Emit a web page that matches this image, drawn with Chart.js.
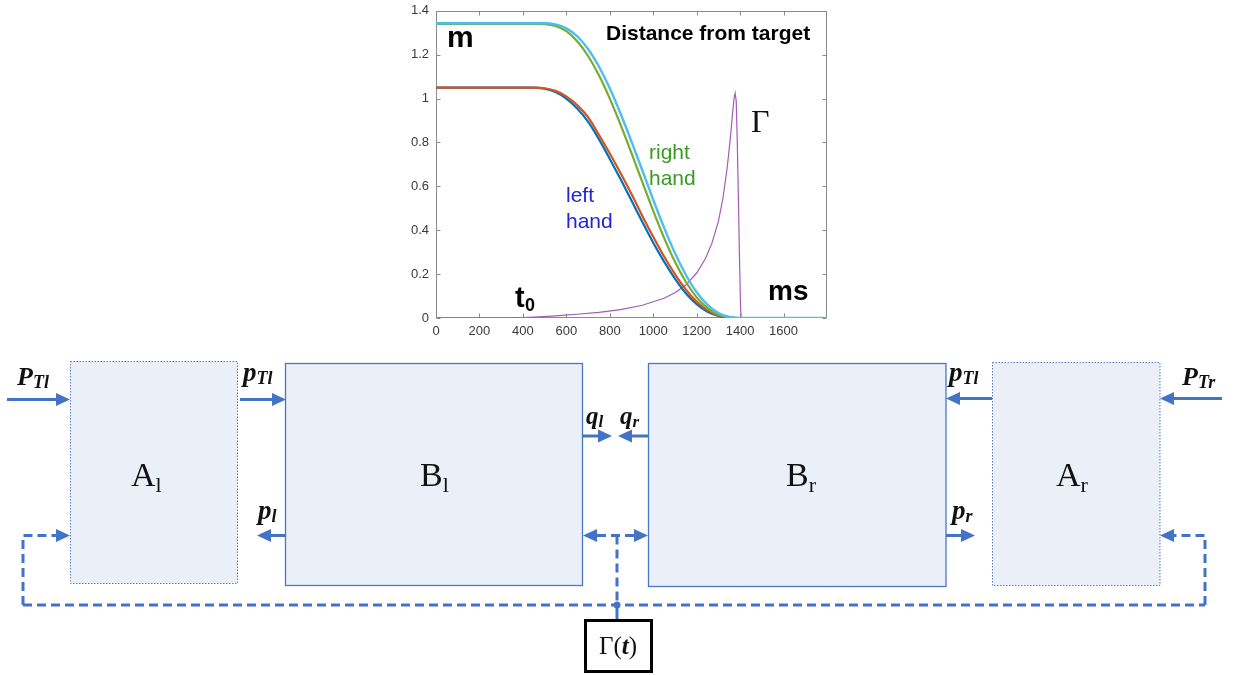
<!DOCTYPE html>
<html><head><meta charset="utf-8">
<script src="https://cdn.jsdelivr.net/npm/chart.js@4.4.1/dist/chart.umd.min.js"></script>
<style>
html,body{margin:0;padding:0;background:#fff;width:1236px;height:675px;overflow:hidden;position:relative}
#wrap{position:absolute;left:380px;top:-4px;width:460px;height:349px}
#diag{position:absolute;left:0;top:0;pointer-events:none}
.mi{font-family:'Liberation Serif','DejaVu Serif',serif;font-weight:bold;font-style:italic;fill:#111}
.bx{font-family:'Liberation Serif','DejaVu Serif',serif;fill:#111}
.an{font-family:'Liberation Sans',Arial,sans-serif}
</style></head><body>
<div id="wrap"><canvas id="c"></canvas></div>
<svg id="diag" width="1236" height="675" xmlns="http://www.w3.org/2000/svg">
  <!-- chart annotations -->
  <text class="an" x="447" y="47" font-size="30" font-weight="bold" fill="#000">m</text>
  <text class="an" x="606" y="40" font-size="21" font-weight="bold" fill="#000">Distance from target</text>
  <text class="bx" x="751" y="132" font-size="32">Γ</text>
  <text class="an" x="649" y="159" font-size="21" fill="#3a9a25">right</text>
  <text class="an" x="649" y="185" font-size="21" fill="#3a9a25">hand</text>
  <text class="an" x="566" y="202" font-size="21" fill="#2424d0">left</text>
  <text class="an" x="566" y="228" font-size="21" fill="#2424d0">hand</text>
  <text class="an" x="515" y="307" font-size="29" font-weight="bold" fill="#000">t</text>
  <text class="an" x="525" y="311" font-size="18" font-weight="bold" fill="#000">0</text>
  <text class="an" x="768" y="300" font-size="28" font-weight="bold" fill="#000">ms</text>

  <!-- boxes -->
  <rect x="70.5" y="361.5" width="167" height="222" fill="#EAEFF8" stroke="#5B80C8" stroke-width="1" stroke-dasharray="1.5,1.5"/>
  <rect x="285.5" y="363.5" width="297" height="222" fill="#EAEFF8" stroke="#4A76C6" stroke-width="1.3"/>
  <rect x="648.5" y="363.5" width="297.5" height="223" fill="#EAEFF8" stroke="#4A76C6" stroke-width="1.3"/>
  <rect x="992.5" y="362.5" width="167.5" height="223" fill="#EAEFF8" stroke="#5B80C8" stroke-width="1" stroke-dasharray="1.5,1.5"/>

  <!-- box labels -->
  <text class="bx" x="131" y="486" font-size="34">A<tspan font-size="22" dy="6">l</tspan></text>
  <text class="bx" x="420" y="486" font-size="34">B<tspan font-size="22" dy="6">l</tspan></text>
  <text class="bx" x="786" y="486" font-size="34">B<tspan font-size="22" dy="6">r</tspan></text>
  <text class="bx" x="1056" y="486" font-size="34">A<tspan font-size="22" dy="6">r</tspan></text>

  <g stroke="#4472C4" stroke-width="3" fill="none">
    <line x1="7" y1="399.5" x2="57" y2="399.5"/>
    <line x1="240" y1="399.5" x2="273" y2="399.5"/>
    <line x1="583" y1="436" x2="599" y2="436"/>
    <line x1="631" y1="436" x2="648" y2="436"/>
    <line x1="270" y1="535.5" x2="286" y2="535.5"/>
    <line x1="959" y1="398.5" x2="992" y2="398.5"/>
    <line x1="1173" y1="398.5" x2="1222" y2="398.5"/>
    <line x1="946" y1="535.5" x2="962" y2="535.5"/>
    <line x1="617" y1="605" x2="617" y2="620"/>
  </g>
  <g stroke="#4472C4" stroke-width="3" fill="none" stroke-dasharray="9,5">
    <path d="M23,605 V535.5 H57"/>
    <path d="M1205,605 V535.5 H1173"/>
    <path d="M23,605 H1205"/>
    <path d="M597,535.5 H634"/>
    <path d="M617,535.5 V605"/>
  </g>
  <g fill="#4472C4">
    <polygon points="70,399.5 56,393 56,406"/>
    <polygon points="286,399.5 272,393 272,406"/>
    <polygon points="612,436 598,429.5 598,442.5"/>
    <polygon points="618,436 632,429.5 632,442.5"/>
    <polygon points="257,535.5 271,529 271,542"/>
    <polygon points="583,535.5 597,529 597,542"/>
    <polygon points="648,535.5 634,529 634,542"/>
    <polygon points="70,535.5 56,529 56,542"/>
    <polygon points="1160,535.5 1174,529 1174,542"/>
    <polygon points="946,398.5 960,392 960,405"/>
    <polygon points="1160,398.5 1174,392 1174,405"/>
    <polygon points="975,535.5 961,529 961,542"/>
    <circle cx="617" cy="605" r="3.5"/>
  </g>

  <!-- signal labels -->
  <text class="mi" x="17" y="385" font-size="26">P<tspan font-size="18" dy="3">Tl</tspan></text>
  <text class="mi" x="243" y="381" font-size="27">p<tspan font-size="18" dy="3">Tl</tspan></text>
  <text class="mi" x="586" y="424" font-size="25">q<tspan font-size="17" dy="3">l</tspan></text>
  <text class="mi" x="620" y="424" font-size="25">q<tspan font-size="17" dy="3">r</tspan></text>
  <text class="mi" x="258" y="519" font-size="27">p<tspan font-size="18" dy="3">l</tspan></text>
  <text class="mi" x="949" y="381" font-size="27">p<tspan font-size="18" dy="3">Tl</tspan></text>
  <text class="mi" x="1182" y="385" font-size="26">P<tspan font-size="18" dy="3">Tr</tspan></text>
  <text class="mi" x="952" y="519" font-size="27">p<tspan font-size="18" dy="3">r</tspan></text>

  <!-- Gamma(t) box -->
  <rect x="585.5" y="620.5" width="66" height="51" fill="#fff" stroke="#000" stroke-width="3"/>
  <text class="bx" x="618" y="654" font-size="25" text-anchor="middle">Γ(<tspan font-weight="bold" font-style="italic">t</tspan>)</text>
</svg>
<script>
// ---- data ----
const timeMs = [0,100,200,300,400,450,500,550,600,650,700,750,800,850,900,950,1000,1050,1100,1150,1200,1250,1300,1350,1400,1450,1500,1600,1700,1800];
const leftHandBlue   = [1.05,1.05,1.05,1.05,1.05,1.05,1.045,1.03,1.0,0.955,0.895,0.815,0.725,0.632,0.535,0.437,0.343,0.257,0.18,0.113,0.063,0.028,0.009,0.001,0,0,0,0,0,0];
const leftHandOrange = [1.05,1.05,1.05,1.05,1.05,1.05,1.047,1.035,1.01,0.97,0.915,0.835,0.75,0.66,0.565,0.465,0.37,0.28,0.2,0.13,0.075,0.035,0.012,0.002,0,0,0,0,0,0];
const rightHandGreen = [1.34,1.34,1.34,1.34,1.34,1.34,1.339,1.331,1.307,1.261,1.194,1.106,1.0,0.88,0.751,0.619,0.488,0.365,0.256,0.165,0.094,0.045,0.015,0.003,0,0,0,0,0,0];
const rightHandCyan  = [1.343,1.343,1.343,1.343,1.343,1.343,1.343,1.338,1.32,1.284,1.226,1.146,1.047,0.931,0.804,0.672,0.539,0.412,0.296,0.197,0.117,0.06,0.023,0.005,0,0,0,0,0,0];
const gammaTimeMs = [0,350,450,550,650,750,850,950,1050,1100,1150,1200,1240,1270,1300,1320,1340,1355,1365,1372,1377,1382,1387,1392,1397,1402,1405,1500,1800];
const gammaValues = [0,0,0.004,0.01,0.017,0.026,0.038,0.058,0.09,0.115,0.15,0.205,0.27,0.34,0.44,0.54,0.68,0.82,0.93,1.0,1.025,0.99,0.8,0.55,0.28,0.05,0,0,0];
const xTickValues = [0,200,400,600,800,1000,1200,1400,1600];
const yTickValues = [0,0.2,0.4,0.6,0.8,1,1.2,1.4];

const pts = (xs, ys) => xs.map((x, i) => ({x, y: ys[i]}));

const framePlugin = {
  id: 'frame',
  beforeDatasetsDraw(chart) {
    const {ctx, chartArea: a, scales: {x, y}} = chart;
    ctx.save();
    ctx.strokeStyle = '#8a8a8a';
    ctx.lineWidth = 1;
    const L = Math.round(a.left) + 0.5, R = Math.round(a.right) - 0.5;
    const T = Math.round(a.top) + 0.5, B = Math.round(a.bottom) - 0.5;
    ctx.strokeRect(L, T, R - L, B - T);
    ctx.beginPath();
    x.ticks.forEach(t => {
      const p = Math.round(x.getPixelForValue(t.value)) + 0.5;
      ctx.moveTo(p, B); ctx.lineTo(p, B - 4);
      ctx.moveTo(p, T); ctx.lineTo(p, T + 4);
    });
    y.ticks.forEach(t => {
      const p = Math.round(y.getPixelForValue(t.value)) + 0.5;
      ctx.moveTo(L, p); ctx.lineTo(L + 4, p);
      ctx.moveTo(R, p); ctx.lineTo(R - 4, p);
    });
    ctx.stroke();
    ctx.restore();
  }
};

const tickFont = {family: "'Liberation Sans', Arial, sans-serif", size: 13};
new Chart(document.getElementById('c'), {
  type: 'line',
  data: {
    datasets: [
      {label: 'right hand (cyan)', data: pts(timeMs, rightHandCyan), borderColor: '#4DBEEE', borderWidth: 2.4, order: 1},
      {label: 'right hand (green)', data: pts(timeMs, rightHandGreen), borderColor: '#77AC30', borderWidth: 2.2, order: 2},
      {label: 'left hand (orange)', data: pts(timeMs, leftHandOrange), borderColor: '#D95319', borderWidth: 2.2, order: 3},
      {label: 'left hand (blue)', data: pts(timeMs, leftHandBlue), borderColor: '#0072BD', borderWidth: 2.2, order: 4},
      {label: 'Γ', data: pts(gammaTimeMs, gammaValues), borderColor: '#A45BB5', borderWidth: 1.2, order: 5, cubicInterpolationMode: 'default', tension: 0}
    ]
  },
  options: {
    responsive: true,
    maintainAspectRatio: false,
    animation: false,
    layout: {padding: {top: 7, right: 13, left: 0, bottom: 0}},
    elements: {point: {radius: 0}, line: {cubicInterpolationMode: 'monotone', fill: false}},
    plugins: {legend: {display: false}, tooltip: {enabled: false}},
    scales: {
      x: {
        type: 'linear', min: 0, max: 1800,
        afterBuildTicks: s => { s.ticks = xTickValues.map(v => ({value: v})); },
        afterFit: s => { s.height = 27; },
        grid: {display: false, drawTicks: false},
        border: {display: false},
        ticks: {padding: 6, color: '#3a3a3a', font: tickFont, maxRotation: 0, autoSkip: false, callback: v => String(v)}
      },
      y: {
        type: 'linear', min: 0, max: 1.4,
        afterBuildTicks: s => { s.ticks = yTickValues.map(v => ({value: v})); },
        afterFit: s => { s.width = 56; },
        grid: {display: false, drawTicks: false},
        border: {display: false},
        ticks: {padding: 7, color: '#3a3a3a', font: tickFont, callback: v => String(Number(Number(v).toFixed(1)))}
      }
    }
  },
  plugins: [framePlugin]
});
</script>
</body></html>
